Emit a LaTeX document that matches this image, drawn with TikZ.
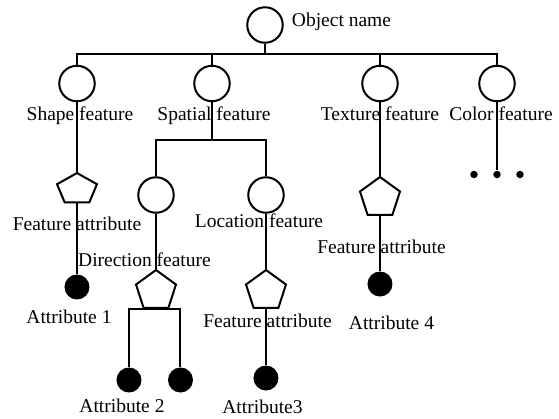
\documentclass[tikz,border=0pt]{standalone}
\usepackage{fontspec}
\setmainfont{Liberation Serif}
\usetikzlibrary{positioning, shapes.geometric}

\begin{document}
\begin{tikzpicture}[on grid, line width=1pt,
    feat/.style={circle, draw, minimum size=17.75pt, inner sep=0pt},
    pent/.style={regular polygon, regular polygon sides=5, draw, minimum size=21pt, inner sep=0pt},
    attr/.style={circle, fill, minimum size=12.5pt, inner sep=0pt},
    moredot/.style={circle, fill, minimum size=3.75pt, inner sep=0pt},
    lbl/.style={inner sep=0pt, font=\fontsize{9.75pt}{11pt}\selectfont}]
    \useasboundingbox (-132.5pt,12.5pt) rectangle (147pt,-197pt);

    % object and its four features
    \node[feat] (obj) {};
    \node[feat] (shp) [below left=29.25pt and 94pt of obj] {};
    \node[feat] (spa) [below left=29.25pt and 26.5pt of obj] {};
    \node[feat] (tex) [right=84pt of spa] {};
    \node[feat] (col) [right=58.5pt of tex] {};
    \coordinate[below=14.5pt of obj] (bus);

    % spatial feature
    \coordinate[below=28.25pt of spa] (sjoin);
    \node[feat] (dir) [below left=55.75pt and 28pt of spa] {};
    \node[feat] (loc) [right=55pt of dir] {};

    % feature attributes
    \node[pent, yscale=0.77, transform shape] (shppent) [below=52.85pt of shp] {};
    \node[attr] (att1) [below=101.75pt of shp] {};
    \node[pent] (dirpent) [below=48pt of dir] {};
    \node[attr] (att2a) [below left=44.5pt and 13.5pt of dirpent] {};
    \node[attr] (att2b) [right=25.75pt of att2a] {};
    \node[pent] (locpent) [below=48pt of loc] {};
    \node[attr] (att3) [below=43.5pt of locpent] {};
    \node[pent] (texpent) [below=57.25pt of tex] {};
    \node[attr] (att4) [below=43pt of texpent] {};
    \node[moredot] (cdot2) [below=45.5pt of col] {};
    \node[moredot] (cdot1) [left=11.5pt of cdot2] {};
    \node[moredot] (cdot3) [right=11.5pt of cdot2] {};

    % labels
    \node[lbl, right=13pt of obj, anchor=base west, yshift=-0.5pt] {Object name};
    \node[lbl, below=18.5pt of shp, anchor=base, xshift=1.5pt] {Shape feature};
    \node[lbl, below=18.5pt of spa, anchor=base, xshift=1pt] {Spatial feature};
    \node[lbl, below=18.5pt of tex, anchor=base] {Texture feature};
    \node[lbl, below=18.5pt of col, anchor=base, xshift=2pt] {Color feature};
    \node[lbl, above=28.5pt of att1, anchor=base] {Feature attribute};
    \node[lbl, below=18pt of att1, anchor=base, xshift=-4pt] {Attribute 1};
    \node[lbl, below=35.5pt of dir, anchor=base, xshift=-5.75pt] {Direction feature};
    \node[lbl, below=16.25pt of loc, anchor=base, xshift=-3.5pt] {Location feature};
    \node[lbl, below=18pt of locpent, anchor=base, xshift=0.75pt] {Feature attribute};
    \node[lbl, below=16pt of att2a, anchor=base, xshift=-3.5pt] {Attribute 2};
    \node[lbl, below=17.5pt of att3, anchor=base, xshift=-1.75pt] {Attribute3};
    \node[lbl, below=27.5pt of texpent, anchor=base, xshift=0.75pt] {Feature attribute};
    \node[lbl, below=22.5pt of att4, anchor=base, xshift=5.75pt] {Attribute 4};

    % connectors
    \draw (obj) -- (bus);
    \draw (shp) |- (bus) -| (col);
    \draw (spa) -- (spa |- bus);
    \draw (tex) -- (tex |- bus);
    \draw (shp) -- (shppent) -- (att1);
    \draw (spa) -- (sjoin);
    \draw (dir) |- (sjoin) -| (loc);
    \draw (dir) -- (dirpent);
    \draw (att2a) |- (dirpent.south) -| (att2b);
    \draw (loc) -- (locpent) -- (att3);
    \draw (tex) -- (texpent) -- (att4);
    \draw (col) -- (cdot2);
\end{tikzpicture}
\end{document}
